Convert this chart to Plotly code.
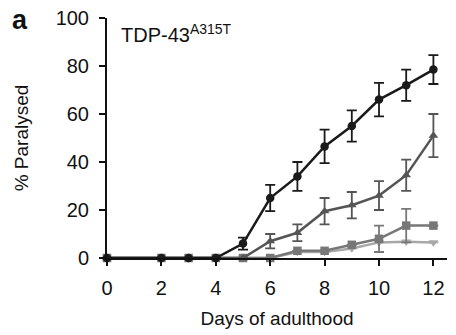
import plotly.graph_objects as go

days = [0, 2, 3, 4, 5, 6, 7, 8, 9, 10, 11, 12]

circle_vals = [0, 0, 0, 0, 6, 25, 34, 46.5, 55, 66, 72, 78.5]
circle_err = [0, 0, 0, 0, 2.5, 5.5, 6, 7, 6.5, 7, 6.5, 6]

tri_vals = [0, 0, 0, 0, 0, 7, 10.5, 19.5, 22, 26, 34.5, 51]
tri_err = [0, 0, 0, 0, 0, 3, 3.5, 5.5, 5.5, 6, 6.5, 9]

sq_vals = [0, 0, 0, 0, 0, 0, 3, 3, 5.5, 8, 13.5, 13.5]
sq_err = [0, 0, 0, 0, 0, 0, 0, 0, 0, 5.5, 7, 0]

inv_vals = [0, 0, 0, 0, 0, 0, 2.5, 2.5, 4, 6.5, 6.8, 6.5]
inv_err = [0, 0, 0, 0, 0, 0, 0, 0, 0, 0, 0, 0]

series = [
    (inv_vals, inv_err, "#a8a8a8", "triangle-down"),
    (sq_vals, sq_err, "#777777", "square"),
    (tri_vals, tri_err, "#555555", "triangle-up"),
    (circle_vals, circle_err, "#1a1a1a", "circle"),
]

FONT = "Liberation Sans, Arial, Helvetica"

fig = go.Figure()
for vals, err, col, sym in series:
    fig.add_trace(go.Scatter(
        x=days, y=vals, mode="lines+markers",
        line=dict(color=col, width=2.5),
        marker=dict(symbol=sym, size=8.5, color=col),
        error_y=dict(type="data", array=err, color=col, thickness=1.8, width=5, visible=True),
        cliponaxis=False, showlegend=False,
    ))

fig.add_annotation(x=0.45, y=99.5, xref="x", yref="y", xanchor="left", yanchor="top",
                   text="TDP-43<sup>A315T</sup>", showarrow=False,
                   font=dict(size=20, color="#111111", family=FONT))
fig.add_annotation(x=-0.285, y=0.99, xref="paper", yref="paper", xanchor="left", yanchor="middle",
                   text="<b>a</b>", showarrow=False,
                   font=dict(size=27, color="#111111", family=FONT))

fig.update_layout(
    width=456, height=335,
    margin=dict(l=107, r=9, t=18, b=77, autoexpand=False),
    plot_bgcolor="white", paper_bgcolor="white",
    font=dict(family=FONT, size=20, color="#111111"),
    xaxis=dict(range=[0, 12.5], tickmode="array", tickvals=[0, 2, 4, 6, 8, 10, 12],
               showline=True, linecolor="#111111", linewidth=2,
               ticks="outside", ticklen=6, tickwidth=2, tickcolor="#111111",
               showgrid=False, zeroline=False, automargin=False,
               tickfont=dict(size=20), ticklabelstandoff=5,
               title=dict(text="Days of adulthood", standoff=14, font=dict(size=19))),
    yaxis=dict(range=[0, 100], tickmode="array", tickvals=[0, 20, 40, 60, 80, 100],
               showline=True, linecolor="#111111", linewidth=2,
               ticks="outside", ticklen=6, tickwidth=2, tickcolor="#111111",
               showgrid=False, zeroline=False, automargin=False,
               tickfont=dict(size=20), ticklabelstandoff=6,
               title=dict(text="% Paralysed", standoff=22, font=dict(size=19))),
)

fig.write_html("out.html", config={"displayModeBar": False},
               post_script="document.body.style.margin='0';document.body.style.overflow='hidden';")
